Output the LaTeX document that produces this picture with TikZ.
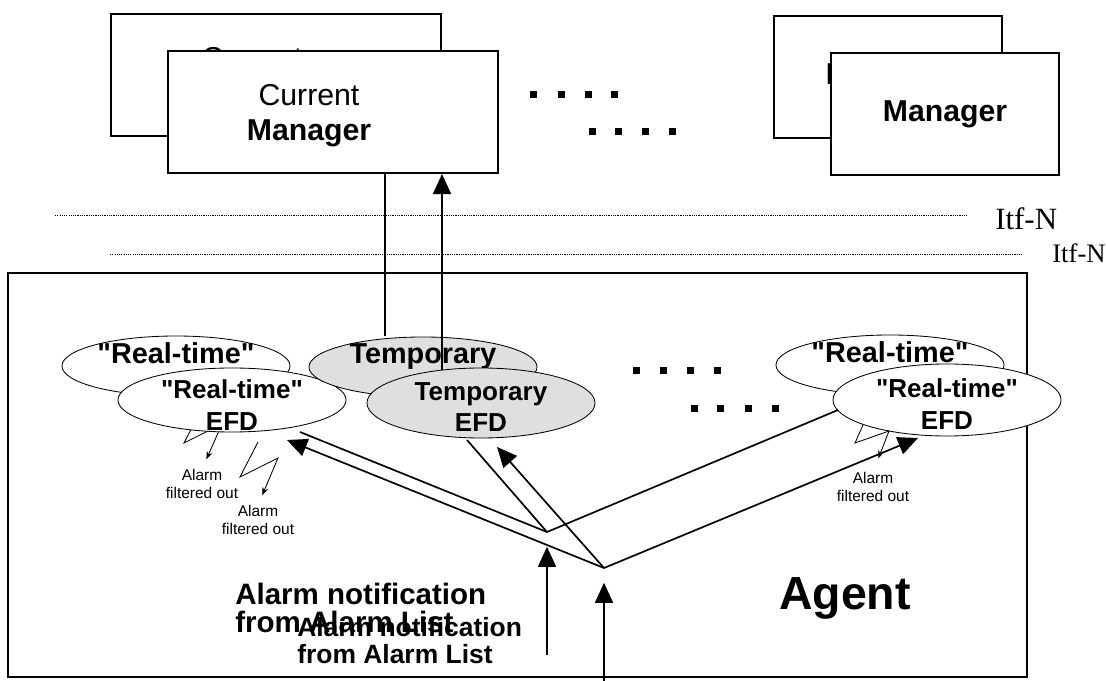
\documentclass[tikz,border=0pt]{standalone}
\usepackage{fontspec}
\setmainfont{Liberation Sans}
\newfontfamily\itffont{Liberation Serif}
\usepackage{tikz}
\usetikzlibrary{shapes.geometric}
\usetikzlibrary{arrows.meta}

\begin{document}
\begin{tikzpicture}[x=0.025cm, y=-0.025cm,
        mgr/.style={draw, line width=1.4pt, fill=white, minimum height=3.05cm, inner sep=0pt},
        mgrtxt/.style={font=\fontsize{21.5}{25}\selectfont, align=center, inner sep=0pt},
        efd/.style={ellipse, draw, line width=0.6pt, fill=white, minimum width=5.7cm, minimum height=1.5cm, inner sep=0pt},
        tmp/.style={efd, fill=gray!25},
        efdtxt/.style={font=\bfseries\fontsize{18.5}{22.5}\selectfont, align=center, inner sep=0pt},
        efdback/.style={efdtxt, font=\bfseries\fontsize{20.5}{24}\selectfont},
        conn/.style={line width=1.2pt},
        arr/.style={conn, -{Triangle[length=0.5cm, width=0.45cm]}},
        zig/.style={line width=0.6pt, -{Stealth[length=0.2cm, width=0.15cm]}},
        flt/.style={font=\fontsize{11}{12.5}\selectfont, align=center, inner sep=0pt},
        itf/.style={line width=0.7pt, dash pattern=on 0.8pt off 0.8pt},
        note/.style={font=\bfseries\fontsize{21}{19.5}\selectfont, align=left, inner sep=0pt, anchor=base west}]
        \useasboundingbox (0,0) rectangle (1106,681);

        \node[mgr, minimum width=8.25cm] (mgrB1) at (276,75) {};
        \node[mgrtxt] (mgrB1t) at (252,79) {Current\\\textbf{Manager}};
        \node[mgr, minimum width=8.25cm] (mgrF1) at (333,112) {};
        \node[mgrtxt] (mgrF1t) at (309,116) {Current\\\textbf{Manager}};
        \node[mgr, minimum width=5.7cm] (mgrB2) at (888,77) {};
        \node[mgrtxt] (mgrB2t) at (888,77) {\textbf{Manager}};
        \node[mgr, minimum width=5.7cm] (mgrF2) at (945,114) {};
        \node[mgrtxt] (mgrF2t) at (945,114) {\textbf{Manager}};

        \foreach \x in {533,561,588,614}
            \fill (\x-3.5,91.5) rectangle ++(7,7);
        \foreach \x in {592,618,645,672}
            \fill (\x-3.5,128.5) rectangle ++(7,7);

        \draw[itf] (55,215) -- (968,215);
        \node[anchor=base west, inner sep=0pt, font=\itffont\fontsize{22}{24}\selectfont] (itf1) at (995,230) {Itf-N};
        \draw[itf] (110,254) -- (1023,254);
        \node[anchor=base west, inner sep=0pt, font=\itffont\fontsize{19}{21}\selectfont] (itf2) at (1052,263) {Itf-N};

        \node[draw, line width=1.4pt, minimum width=25.475cm, minimum height=10.1cm, inner sep=0pt] (agent) at (517.5,475) {};
        \node[font=\bfseries\fontsize{33}{36}\selectfont, inner sep=0pt] (agentt) at (845,598) {Agent};

        \node[efd] (rtAb) at (176,366) {};
        \node[efdback] (rtAbt) at ([shift={(0,-13)}]rtAb.center) {\textquotedbl Real-time\textquotedbl};
        \node[flt] (fltAb) at (202,484) {Alarm\\filtered out};
        \draw[zig, shorten >=0.27cm] ([shift={(26,42)}]rtAb.center) -- ++(-18,35) -- ++(38,-19) -- (fltAb.north);
        \node[efd, minimum height=1.6cm] (rtAf) at (232,400) {};
        \node[efdtxt] (rtAft) at ([shift={(0,5)}]rtAf.center) {\textquotedbl Real-time\textquotedbl\\EFD};

        \node[tmp] (tmpB) at (423,367) {};
        \node[efdback] (tmpBt) at ([shift={(0,-10)}]tmpB.center) {Temporary};
        \node[tmp, minimum height=1.75cm] (tmpF) at (481,403) {};
        \node[efdtxt] (tmpFt) at ([shift={(0,4)}]tmpF.center) {Temporary\\EFD};

        \node[efd] (rtBb) at (890,365) {};
        \node[efdback] (rtBbt) at ([shift={(0,-13)}]rtBb.center) {\textquotedbl Real-time\textquotedbl};
        \node[efd, minimum height=1.8cm] (rtBf) at (947,400) {};
        \node[efdtxt] (rtBft) at ([shift={(0,4)}]rtBf.center) {\textquotedbl Real-time\textquotedbl\\EFD};

        \draw[conn] ([shift={(52,0)}]mgrF1.south) -- ([shift={(-38,-31)}]tmpB.center);
        \draw[arr] ([shift={(-39,-33)}]tmpF.center) -- ([shift={(109,0)}]mgrF1.south);

        \coordinate (junA) at (547,532);
        \coordinate (junB) at (604,568);
        \coordinate (srcA) at (547,655);
        \coordinate (srcB) at (604,681);

        \draw[conn] (junA) -- ([shift={(68,32)}]rtAf.center);
        \draw[conn] (junA) -- ([shift={(-14,37)}]tmpF.center);
        \draw[conn] (junA) -- ([shift={(-109,10)}]rtBf.center);
        \draw[arr] (junB) -- ([shift={(55,40)}]rtAf.center);
        \draw[arr] (junB) -- ([shift={(16,44)}]tmpF.center);
        \draw[arr] (junB) -- ([shift={(-29,38)}]rtBf.center);

        \node[flt] (fltAf) at (258,520) {Alarm\\filtered out};
        \draw[zig, shorten >=0.27cm] ([shift={(26,42)}]rtAf.center) -- ++(-18,35) -- ++(38,-19) -- (fltAf.north);
        \node[flt] (fltB) at (873,487) {Alarm\\filtered out};
        \draw[zig, shorten >=0.37cm] ([shift={(-84,25)}]rtBf.center) -- ++(-8,18) -- ++(34,-12) -- (fltB.north);

        \foreach \x in {636,663,690,717}
            \fill (\x-3.5,367.5) rectangle ++(7,7);
        \foreach \x in {694,720,748,775}
            \fill (\x-3.5,405.5) rectangle ++(7,7);

        \node[note] (note1) at (235,632) {Alarm notification\\from Alarm List};
        \node[note, font=\bfseries\fontsize{18.8}{18.5}\selectfont] (note2) at (297,663) {Alarm notification\\from Alarm List};
        \draw[arr, shorten >=0.37cm] (srcA) -- (junA);
        \draw[arr, shorten >=0.37cm] (srcB) -- (junB);
    \end{tikzpicture}
\end{document}
